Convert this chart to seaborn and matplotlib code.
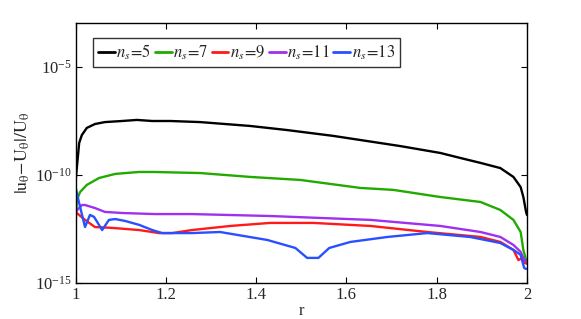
import numpy as np
import pandas as pd
import matplotlib
matplotlib.use("Agg")
import matplotlib.pyplot as plt
import seaborn as sns

# values: r and log10 of the relative error
r_5 = [1.0, 1.003, 1.006, 1.008, 1.014, 1.025, 1.043, 1.065, 1.103, 1.136, 1.170,
       1.210, 1.276, 1.387, 1.469, 1.571, 1.719, 1.808, 1.852, 1.897, 1.941, 1.970,
       1.986, 1.992, 1.998, 2.0]
e_5 = [-10.3, -9.63, -8.98, -8.52, -8.15, -7.82, -7.64, -7.55, -7.50, -7.45, -7.50,
       -7.50, -7.55, -7.73, -7.92, -8.19, -8.66, -8.98, -9.21, -9.44, -9.68, -10.09,
       -10.56, -11.02, -11.71, -11.85]

r_7 = [1.001, 1.003, 1.010, 1.025, 1.052, 1.088, 1.141, 1.172, 1.276, 1.387, 1.498,
       1.631, 1.704, 1.808, 1.897, 1.941, 1.970, 1.986, 1.992, 1.998, 2.0]
e_7 = [-11.94, -11.16, -10.79, -10.46, -10.14, -9.95, -9.86, -9.86, -9.91, -10.09,
       -10.23, -10.60, -10.69, -11.02, -11.25, -11.62, -12.08, -12.64, -13.47, -13.94,
       -14.1]

r_9 = [1.0, 1.021, 1.043, 1.081, 1.141, 1.185, 1.214, 1.258, 1.343, 1.431, 1.527,
       1.653, 1.779, 1.897, 1.941, 1.970, 1.981, 1.990, 1.994, 2.0]
e_9 = [-11.71, -12.08, -12.41, -12.45, -12.55, -12.69, -12.69, -12.55, -12.36, -12.22,
       -12.22, -12.36, -12.64, -12.87, -13.10, -13.47, -13.94, -13.84, -14.07, -14.1]

r_11 = [1.0, 1.014, 1.021, 1.043, 1.065, 1.103, 1.176, 1.258, 1.431, 1.653, 1.808,
        1.897, 1.941, 1.970, 1.986, 1.992, 1.998]
e_11 = [-11.71, -11.39, -11.39, -11.53, -11.71, -11.76, -11.81, -11.81, -11.90, -12.08,
        -12.36, -12.64, -12.87, -13.24, -13.56, -13.84, -14.03]

r_13 = [1.0, 1.008, 1.021, 1.032, 1.041, 1.059, 1.074, 1.088, 1.110, 1.141, 1.170,
        1.192, 1.214, 1.258, 1.320, 1.425, 1.487, 1.513, 1.538, 1.562, 1.609, 1.691,
        1.779, 1.874, 1.941, 1.970, 1.986, 1.992, 1.994, 1.998]
e_13 = [-10.56, -11.30, -12.41, -11.85, -11.94, -12.55, -12.08, -12.04, -12.13, -12.31,
        -12.55, -12.69, -12.69, -12.69, -12.64, -13.01, -13.38, -13.84, -13.84, -13.38,
        -13.10, -12.87, -12.69, -12.87, -13.15, -13.47, -13.70, -14.17, -14.31, -14.35]

ns_values = [5, 7, 9, 11, 13]
colors = ["#000000", "#22aa00", "#ff1a1a", "#a030f0", "#2850ff"]

frames = []
for ns, rr, ee in zip(ns_values, [r_5, r_7, r_9, r_11, r_13], [e_5, e_7, e_9, e_11, e_13]):
    frames.append(pd.DataFrame({"r": rr, "err": 10.0 ** np.array(ee),
                                "ns": r"$n_s\!=\!\mathit{%d}$" % ns}))
df = pd.concat(frames, ignore_index=True)

sns.set_theme(style="ticks")
plt.rcParams["font.family"] = ["Liberation Serif", "DejaVu Serif"]
plt.rcParams["mathtext.fontset"] = "stix"
plt.rcParams["xtick.direction"] = "in"
plt.rcParams["ytick.direction"] = "in"

fig = plt.figure(figsize=(5.81, 3.19), dpi=100)
ax = fig.add_axes([0.130, 0.113, 0.777, 0.815])

sns.lineplot(data=df, x="r", y="err", hue="ns", palette=colors, estimator=None,
             sort=False, linewidth=1.7, ax=ax)

ax.set_yscale("log")
ax.set_xlim(1, 2)
ax.set_ylim(1e-15, 10 ** -2.96)
ax.set_yticks([1e-15, 1e-10, 1e-5])
ax.yaxis.set_minor_locator(matplotlib.ticker.NullLocator())
ax.set_xticks([1, 1.2, 1.4, 1.6, 1.8, 2])
ax.set_xticklabels(["1", "1.2", "1.4", "1.6", "1.8", "2"])
ax.tick_params(labelsize=12, length=4, width=0.8, top=True, right=True,
               color="black", pad=3)
for s in ax.spines.values():
    s.set_linewidth(1.0)
    s.set_color("black")

ax.set_xlabel("r", fontsize=12, labelpad=0)
ax.set_ylabel(r"$|\mathrm{u}_{\mathrm{\theta}}\mathrm{-U}_{\mathrm{\theta}}|/\mathrm{U}_{\mathrm{\theta}}$",
              fontsize=13, labelpad=2)

leg = ax.legend(loc="upper left", ncol=5, frameon=True, fancybox=False,
                handlelength=1.0, handletextpad=0.1, columnspacing=0.2,
                borderpad=0.3, borderaxespad=0.0, fontsize=12,
                bbox_to_anchor=(0.039, 0.942))
leg.get_frame().set_edgecolor("black")
leg.get_frame().set_linewidth(1.0)
for h in leg.get_lines():
    h.set_linewidth(2.0)

fig.savefig("out.png", dpi=100)
